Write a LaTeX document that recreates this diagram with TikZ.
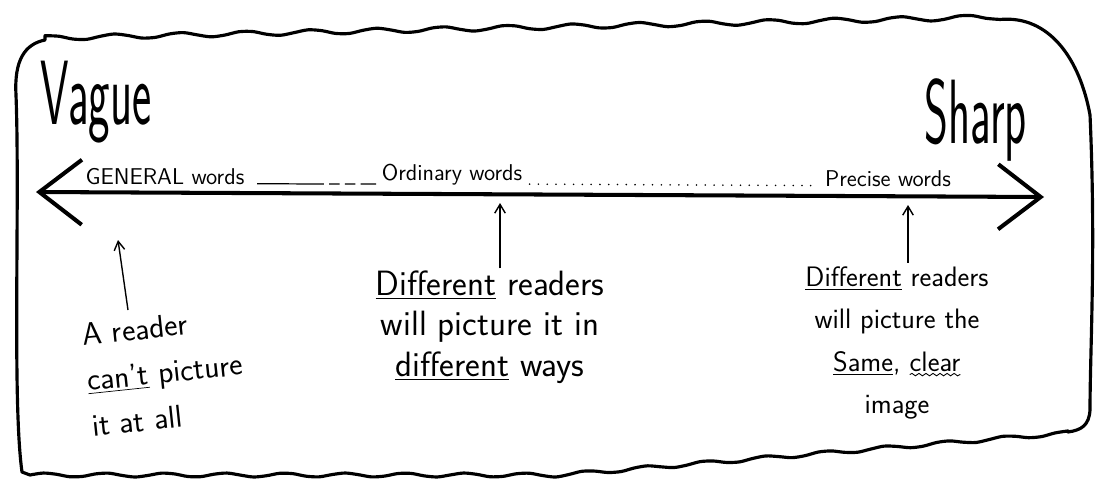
\documentclass[tikz,border=0pt]{standalone}
\usepackage{fontspec}
\usetikzlibrary{positioning,arrows.meta,decorations.pathmorphing}
\newcommand\wavyword[1]{\tikz[baseline=(w.base),x=1cm,y=1cm]{\node[inner sep=0pt,outer sep=0pt](w){#1};\draw[line width=.5pt,decorate,decoration={snake,amplitude=.7pt,segment length=4pt}] ([yshift=-2pt]w.base west) -- ([yshift=-2pt]w.base east);}}

\begin{document}
\begin{tikzpicture}[x=0.02cm,y=-0.02cm,
    frame/.style={line width=1.8pt,line join=round},
    endword/.style={font=\sffamily\fontsize{52}{52}\selectfont,xscale=.5,inner sep=0pt},
    wordlabel/.style={font=\sffamily\fontsize{13}{13}\selectfont,inner sep=1pt},
    note/.style={align=center,font=\sffamily\fontsize{20}{23}\selectfont,inner sep=0pt},
    pointer/.style={-{Straight Barb[length=5pt,width=6pt]},line width=.8pt}]
    \useasboundingbox (0,0) rectangle (1111,481);
    % hand drawn border
    \draw[frame] (22,472) .. controls (12,400) and (20,200) .. (16,95) .. controls (14,60) and (25,44) .. (45,40)
      -- plot[smooth,domain=45:1000,samples=70] (\x,{39-0.022*\x+2.5*sin(\x*5.5)})
      .. controls (1050,15) and (1080,60) .. (1090,115) .. controls (1096,250) and (1090,350) .. (1090,410)
      .. controls (1089,425) and (1082,430) .. (1068,432)
      -- plot[smooth,domain=1068:30,samples=80] (\x,{475-0.083*max(\x-560,0)+2*sin(\x*6)}) -- cycle;
    % the scale
    \node[endword] (vague) at (96,102) {Vague};
    \node[endword] (sharp) at (976,120) {Sharp};
    \coordinate (vagueend) at (36,192);
    \coordinate (sharpend) at (1044,197);
    \draw[line width=2.3pt,{Straight Barb[length=.85cm,width=1.3cm]}-{Straight Barb[length=.85cm,width=1.3cm]}] (vagueend) -- (sharpend);
    \node[wordlabel] (general) at (165,177) {GENERAL words};
    \node[wordlabel] (ordinary) at (452,175) {Ordinary words};
    \node[wordlabel] (precise) at (888,179) {Precise words};
    \draw[line width=.7pt,dash pattern=on 38pt off 3pt on 6pt off 3pt on 6pt off 3pt] ([xshift=6pt,yshift=2pt]general.south east) -- ([xshift=-2pt,yshift=2pt]ordinary.south west);
    \draw[line width=1pt,line cap=round,dash pattern=on 0pt off 5pt] ([xshift=3pt,yshift=2pt]ordinary.south east) -- ([xshift=-4pt,yshift=2pt]precise.south west);
    % notes below the scale
    \node[note,align=left,rotate=6,font=\sffamily\fontsize{18}{26}\selectfont] (cantnote) at (165,372) {A reader\\\underline{can't} picture\\it at all};
    \node[note] (ordnote) at (490,327) {\underline{Different} readers\\will picture it in\\\underline{different} ways};
    \node[note,font=\sffamily\fontsize{16}{24}\selectfont] (samenote) at (897,343) {\underline{Different} readers\\will picture the\\\underline{Same}, \wavyword{clear}\\image};
    \coordinate (generaltip) at (118,240);
    \coordinate (ordinarytip) at (500,203);
    \coordinate (precisetip) at (908,205);
    \draw[pointer] (128,310) -- (generaltip);
    \draw[pointer] (ordnote.north -| ordinarytip) ++(0,-2) -- (ordinarytip);
    \draw[pointer] (samenote.north -| precisetip) ++(0,-4) -- (precisetip);
\end{tikzpicture}
\end{document}
